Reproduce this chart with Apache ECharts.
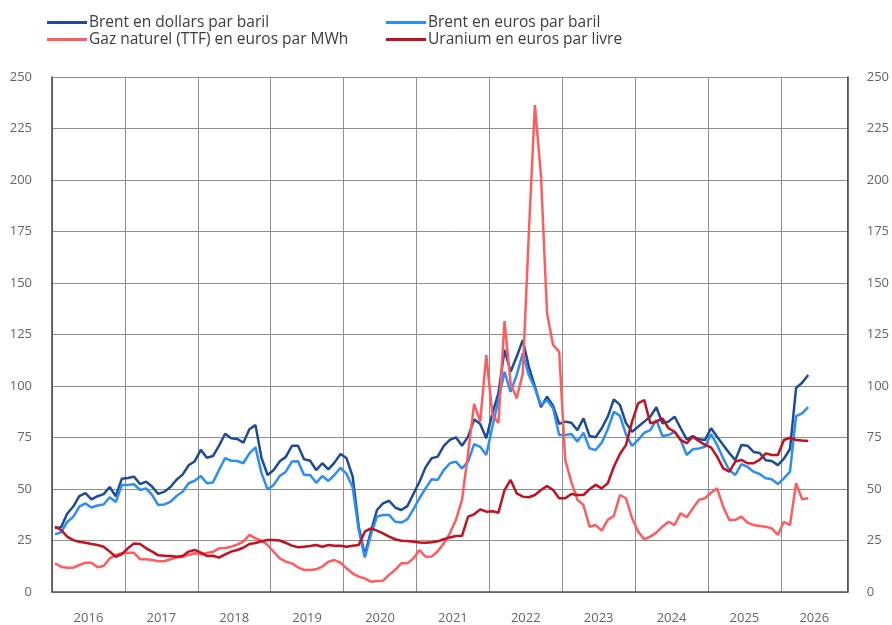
<!DOCTYPE html>
<html>
<head>
<meta charset="utf-8">
<script src="https://cdn.jsdelivr.net/npm/echarts@6/dist/echarts.min.js"></script>
<style>
  html, body { margin: 0; padding: 0; background: #fff; }
  #chart { width: 892px; height: 625px; }
</style>
</head>
<body>
<div id="chart"></div>
<script>
// séries mensuelles, à partir de janvier 2016
var startYear = 2016;
var yearLabels = ['2016', '2017', '2018', '2019', '2020', '2021', '2022', '2023', '2024', '2025', '2026'];

var brentUsd = [
    31, 31.5, 38, 41.5, 46.5, 48, 45, 46.5, 47.5, 51, 46.5, 55,
    55.3, 56, 52.4, 53.6, 51.1, 47.6, 48.7, 51, 54.5, 57, 61.5, 63.5,
    69, 65.2, 66, 71, 76.8, 74.6, 74.3, 72.5, 79, 81, 65, 56.8,
    59.2, 63.5, 65.6, 71, 71, 64.4, 63.7, 59.2, 62.5, 59.5, 62.8, 67,
    64.9, 56, 31.7, 18, 29.3, 39.8, 43, 44.3, 41, 39.8, 41.7, 47.6,
    53.5, 60.5, 64.9, 65.7, 70.9, 73.8, 75.1, 71, 75.4, 83.8, 81.6, 74.6,
    86.7, 96.5, 117.5, 106.9, 114.2, 122.3, 109.4, 99.7, 89.7, 94.8, 90.3, 81.6,
    82.7, 82.2, 78.6, 84.3, 75.7, 75.1, 79.5, 85.1, 93.5, 90.8, 82, 77.8,
    80.2, 82.7, 85.1, 89.7, 81.9, 82.7, 85.1, 79.5, 74.1, 75.7, 74.1, 73.8,
    79.5, 75.4, 71.4, 67.5, 64, 71.4, 71, 68, 67.5, 64, 63.6, 61.6,
    64.7, 69.4, 99, 101.6, 105.3
];
var brentEur = [
    28, 29, 34, 36.5, 41.4, 43, 41, 42, 42.5, 46, 43.7, 52,
    52, 52.3, 49.5, 50.3, 47, 42.2, 42.5, 43.8, 46.6, 48.7, 52.8, 54,
    56.3, 52.8, 53.2, 59.2, 65, 63.7, 63.6, 62.5, 67.3, 70.2, 57.6, 49.8,
    52, 56.3, 58.4, 63.3, 63.5, 56.8, 56.8, 53, 56.3, 53.9, 56.8, 60.3,
    57.3, 50.8, 30, 16.8, 27.7, 36.6, 37.4, 37.4, 34.1, 33.7, 35.3, 40.1,
    45.5, 50.3, 54.7, 54.4, 59.2, 62.5, 63.3, 60, 63.3, 71.8, 70.5, 66.5,
    80.2, 93.2, 106.9, 97.2, 105.3, 115.9, 105.3, 98.9, 90.8, 93.2, 89.2, 76.2,
    76.2, 76.7, 73, 77.3, 69.7, 68.9, 72.5, 79, 87.5, 85.5, 76.5, 70.9,
    73.8, 77.3, 78.6, 83.5, 75.7, 76.2, 77.8, 73.8, 66.5, 69.3, 69.7, 70.5,
    76.7, 71.4, 64.9, 59.2, 56.8, 62.1, 60.8, 58.4, 57.3, 55.2, 54.7, 52.4,
    55.2, 58.4, 85.4, 86.7, 89.7
];
var gasTtf = [
    13.9, 12.3, 11.8, 11.8, 13.1, 14.2, 14.2, 12, 12.6, 16.3, 18, 18.8,
    19, 19, 15.9, 15.9, 15.5, 14.9, 14.9, 15.9, 16.8, 17.1, 18, 18.8,
    18.3, 19, 19.5, 21.2, 21.4, 22, 23, 24.5, 27.7, 26, 24.9, 22.8,
    19.5, 16.3, 14.7, 13.9, 12, 10.7, 10.7, 11, 12.3, 14.7, 15.5, 14.2,
    11.5, 9, 7.4, 6.6, 5, 5.3, 5.5, 8.3, 10.7, 13.9, 13.9, 16.3,
    20.4, 17.1, 17.2, 19.8, 23.6, 28.5, 35, 44.7, 67.3, 91.3, 82.7, 115,
    86, 82, 131.5, 101.3, 94, 106, 174, 236.4, 202.4, 135.3, 119.8, 116.7,
    64, 53.5, 44.7, 42.2, 31.7, 32.5, 29.8, 35, 36.9, 47.1, 45.5, 35.8,
    29.3, 25.6, 26.9, 28.8, 31.7, 34.1, 32.5, 38.2, 36.3, 40.6, 44.7, 45.5,
    48.2, 50.3, 41.4, 35, 35, 36.6, 33.7, 32.5, 32, 31.7, 30.9, 27.7,
    34.1, 32.5, 52.8, 45, 45.5
];
var uranium = [
    31.7, 30.1, 26.9, 25.2, 24.4, 23.9, 23.3, 22.8, 22, 19.6, 17.1, 18.4,
    21.2, 23.6, 23.3, 21.2, 19.6, 17.8, 17.6, 17.5, 17.1, 17.5, 19.6, 20.4,
    19.1, 17.5, 17.6, 16.7, 18.3, 19.6, 20.4, 21.5, 23.3, 23.8, 24.6, 25.2,
    25.2, 25, 23.8, 22.5, 21.7, 22, 22.3, 22.8, 22, 22.8, 22.5, 22.5,
    22, 22.5, 22.8, 29.3, 30.9, 29.8, 28.5, 26.9, 25.6, 24.9, 24.7, 24.4,
    24, 23.9, 24.2, 24.6, 25.6, 26.5, 27.2, 27.3, 36.6, 37.7, 40.1, 39,
    39.2, 38.5, 49.5, 54.4, 47.9, 46.3, 46, 47.1, 49.5, 51.5, 49.5, 45.5,
    45.5, 47.6, 47.1, 47.1, 49.9, 52, 50.3, 52.8, 60.8, 67, 71.4, 82.7,
    91.6, 93.2, 81.9, 82.7, 84.3, 79.5, 77.8, 73.8, 72.2, 75.4, 73.3, 71.4,
    70.2, 65.7, 60, 58.4, 63.3, 64.1, 62.5, 62.5, 64.1, 67.3, 66.5, 66.5,
    73.8, 74.9, 73.8, 73.5, 73.3
];

// point au milieu de chaque mois
function toPoints(values) {
    return values.map(function (v, i) {
        return [startYear + (i + 0.5) / 12, v];
    });
}

var axisMax = 2026 + 11 / 12;
var labelPos = yearLabels.map(function (y, i) {
    return i < yearLabels.length - 1 ? +y + 0.5 : (+y + axisMax) / 2;
});

var font = '"Open Sans", "Noto Sans", sans-serif';
var myChart = echarts.init(document.getElementById('chart'), null, { renderer: 'canvas' });

var legendCommon = {
    orient: 'vertical',
    top: 9,
    icon: 'rect',
    itemWidth: 40,
    itemHeight: 3,
    itemGap: 0,
    textStyle: { fontFamily: font, fontSize: 15.5, color: '#3c3c3c', lineHeight: 17, padding: [0, 0, 0, -3] }
};

myChart.setOption({
    animation: false,
    backgroundColor: '#fff',
    legend: [
        Object.assign({ left: 42, data: ['Brent en dollars par baril', 'Gaz naturel (TTF) en euros par MWh'] }, legendCommon),
        Object.assign({ left: 381, data: ['Brent en euros par baril', 'Uranium en euros par livre'] }, legendCommon)
    ],
    grid: { left: 52, right: 43, top: 77, bottom: 33 },
    xAxis: {
        type: 'value',
        min: 2016,
        max: axisMax,
        interval: 1,
        axisLine: { show: true, lineStyle: { color: '#555560', width: 1.5 } },
        axisTick: { show: false },
        splitLine: { show: true, lineStyle: { color: '#8f8f8f', width: 1 } },
        axisLabel: {
            customValues: labelPos,
            margin: 20,
            fontFamily: font,
            fontSize: 13,
            color: '#666',
            formatter: function (v) { return String(Math.floor(v)); }
        }
    },
    yAxis: [
        {
            type: 'value',
            min: 0, max: 250, interval: 25,
            position: 'left',
            axisLine: { show: true, lineStyle: { color: '#444', width: 1.5 } },
            axisTick: { show: false },
            splitLine: { show: true, lineStyle: { color: '#8f8f8f', width: 1 } },
            axisLabel: { margin: 20, fontFamily: font, fontSize: 13, color: '#666' }
        },
        {
            type: 'value',
            min: 0, max: 250, interval: 25,
            position: 'right',
            axisLine: { show: true, lineStyle: { color: '#444', width: 1.5 } },
            axisTick: { show: false },
            splitLine: { show: false },
            axisLabel: { margin: 19, fontFamily: font, fontSize: 13, color: '#666' }
        }
    ],
    series: [
        {
            name: 'Brent en dollars par baril',
            type: 'line',
            data: toPoints(brentUsd),
            symbol: 'none',
            color: '#1d4b96',
            lineStyle: { width: 2.5 }
        },
        {
            name: 'Brent en euros par baril',
            type: 'line',
            data: toPoints(brentEur),
            symbol: 'none',
            color: '#2b8ef5',
            lineStyle: { width: 2.5 }
        },
        {
            name: 'Gaz naturel (TTF) en euros par MWh',
            type: 'line',
            data: toPoints(gasTtf),
            symbol: 'none',
            color: '#ff5c5f',
            lineStyle: { width: 2.5 }
        },
        {
            name: 'Uranium en euros par livre',
            type: 'line',
            data: toPoints(uranium),
            symbol: 'none',
            color: '#c40f1e',
            lineStyle: { width: 2.5 }
        }
    ]
});
</script>
</body>
</html>
